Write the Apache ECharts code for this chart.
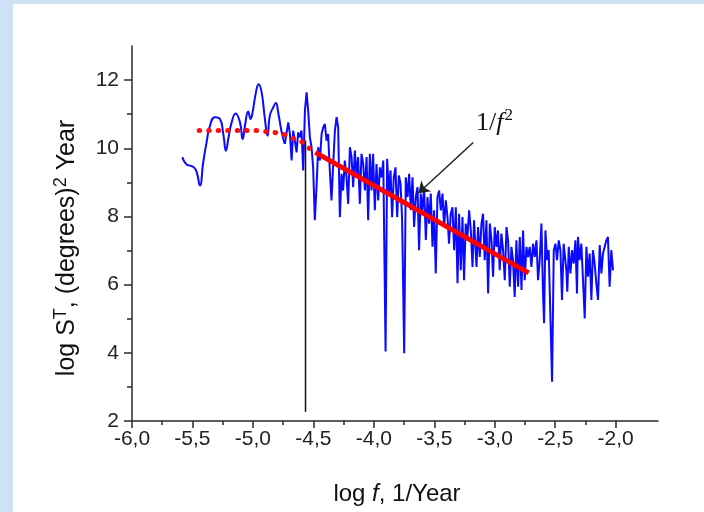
<!DOCTYPE html>
<html><head><meta charset="utf-8">
<script src="https://cdn.jsdelivr.net/npm/echarts@6/dist/echarts.min.js"></script>
<style>
html,body{margin:0;padding:0;background:#cfe1f4;}
#panel{position:absolute;left:13px;top:4px;width:691px;height:508px;background:#fff;}
#c{position:absolute;left:0;top:0;width:704px;height:512px;}
</style>
</head><body><div id="panel"></div><div id="c"></div>
<script>
// log f (1/Year), log S^T — smooth low-frequency part
const lowFreq = [[-5.584,9.74],[-5.554,9.54],[-5.521,9.49],[-5.488,9.44],[-5.465,9.30],[-5.438,8.91],[-5.411,9.59],[-5.383,10.18],[-5.355,10.66],[-5.314,10.91],[-5.273,10.86],[-5.245,10.42],[-5.223,9.93],[-5.204,10.27],[-5.176,10.76],[-5.143,11.02],[-5.107,10.76],[-5.085,10.27],[-5.066,10.66],[-5.039,11.08],[-5.019,10.86],[-5.003,11.05],[-4.975,11.64],[-4.953,11.88],[-4.928,11.64],[-4.901,10.86],[-4.879,10.37],[-4.860,10.96],[-4.832,11.20],[-4.810,11.33],[-4.791,11.05],[-4.762,10.47],[-4.736,10.13]];
// noisy high-frequency part
const highFreq = [[-4.708,10.76],[-4.694,10.42],[-4.680,9.64],[-4.667,10.52],[-4.653,10.22],[-4.639,9.88],[-4.626,10.47],[-4.612,10.32],[-4.598,10.52],[-4.584,9.35],[-4.570,11.10],[-4.556,11.64],[-4.543,11.10],[-4.529,10.32],[-4.515,10.03],[-4.502,9.44],[-4.488,7.89],[-4.474,8.86],[-4.460,10.03],[-4.446,9.64],[-4.432,10.42],[-4.419,10.61],[-4.405,10.71],[-4.391,10.22],[-4.378,10.42],[-4.364,9.35],[-4.350,8.47],[-4.336,9.54],[-4.322,10.52],[-4.308,10.91],[-4.295,10.61],[-4.281,7.98],[-4.267,9.25],[-4.254,8.76],[-4.240,9.64],[-4.226,9.15],[-4.212,8.37],[-4.198,10.03],[-4.184,9.74],[-4.171,8.86],[-4.157,9.93],[-4.143,9.15],[-4.130,9.74],[-4.116,8.37],[-4.102,9.84],[-4.088,9.54],[-4.074,8.76],[-4.060,9.74],[-4.047,7.89],[-4.033,9.84],[-4.019,8.76],[-4.006,9.84],[-3.992,8.18],[-3.978,9.54],[-3.964,8.47],[-3.950,9.44],[-3.936,9.15],[-3.922,9.64],[-3.903,4.04],[-3.890,9.69],[-3.876,8.67],[-3.862,9.35],[-3.849,7.98],[-3.835,9.15],[-3.821,9.44],[-3.807,7.98],[-3.793,9.20],[-3.779,8.96],[-3.766,7.89],[-3.749,3.99],[-3.736,9.15],[-3.721,8.57],[-3.708,9.25],[-3.694,8.18],[-3.680,9.15],[-3.667,7.69],[-3.653,8.57],[-3.639,8.86],[-3.626,7.01],[-3.612,8.67],[-3.598,8.18],[-3.584,8.86],[-3.570,7.31],[-3.556,8.57],[-3.543,7.79],[-3.529,8.67],[-3.515,7.11],[-3.502,8.18],[-3.488,6.33],[-3.474,8.57],[-3.460,8.76],[-3.446,8.18],[-3.432,8.67],[-3.419,7.69],[-3.405,8.47],[-3.391,7.98],[-3.378,7.20],[-3.364,8.08],[-3.350,8.27],[-3.336,7.01],[-3.322,8.27],[-3.308,6.04],[-3.295,8.08],[-3.281,6.42],[-3.267,7.98],[-3.254,6.13],[-3.240,7.79],[-3.226,7.40],[-3.212,8.18],[-3.198,7.59],[-3.184,6.52],[-3.171,7.89],[-3.151,6.52],[-3.138,7.69],[-3.124,6.81],[-3.110,7.79],[-3.097,8.08],[-3.083,6.72],[-3.069,7.89],[-3.055,5.74],[-3.041,7.79],[-3.027,7.30],[-3.014,6.23],[-3.000,7.69],[-2.986,7.11],[-2.973,7.59],[-2.959,6.42],[-2.945,7.50],[-2.931,7.01],[-2.917,6.13],[-2.903,7.69],[-2.890,7.30],[-2.876,5.94],[-2.862,7.11],[-2.849,6.72],[-2.835,5.64],[-2.821,7.30],[-2.807,5.94],[-2.793,7.40],[-2.779,5.84],[-2.766,7.59],[-2.752,6.13],[-2.738,7.11],[-2.725,6.81],[-2.711,7.11],[-2.697,6.52],[-2.683,7.20],[-2.669,6.81],[-2.655,7.30],[-2.642,6.13],[-2.628,6.72],[-2.614,7.79],[-2.601,5.74],[-2.592,4.87],[-2.581,7.59],[-2.567,6.72],[-2.554,7.01],[-2.540,7.01],[-2.526,3.15],[-2.512,7.01],[-2.498,7.20],[-2.485,6.72],[-2.471,7.30],[-2.457,7.01],[-2.444,5.55],[-2.430,7.20],[-2.408,6.42],[-2.400,5.79],[-2.388,7.11],[-2.374,6.33],[-2.361,7.01],[-2.347,6.62],[-2.333,7.30],[-2.320,5.74],[-2.312,7.40],[-2.298,6.72],[-2.284,7.20],[-2.270,6.13],[-2.256,5.01],[-2.242,7.11],[-2.229,6.23],[-2.215,6.91],[-2.201,5.55],[-2.188,7.01],[-2.174,6.62],[-2.160,6.04],[-2.146,5.55],[-2.132,7.16],[-2.118,6.33],[-2.105,6.91],[-2.091,7.11],[-2.077,7.30],[-2.064,7.40],[-2.050,5.94],[-2.036,7.01],[-2.022,6.42]];
// red dotted plateau fit
const plateauFit = [[-5.444,10.52],[-5.2,10.52],[-4.95,10.52],[-4.897,10.49],[-4.817,10.46],[-4.74,10.40],[-4.67,10.29],[-4.60,10.20],[-4.535,10.00]];
// red 1/f^2 fit
const powerLawFit = [[-4.484,9.88],[-2.72,6.345]];
// vertical black marker
const cutoffLine = [[-4.565,10.23],[-4.565,2.27]];
// annotation arrow
const arrowFrom = [-3.178,10.17];
const arrowTo = [-3.633,8.68];
// ticks
const xMajorTicks = [-6,-5.5,-5,-4.5,-4,-3.5,-3,-2.5,-2];
const xMinorTicks = [-5.75,-5.25,-4.75,-4.25,-3.75,-3.25,-2.75,-2.25];
const yMajorTicks = [2,4,6,8,10,12];
const yMinorTicks = [3,5,7,9,11];

const axisColor = '#2a2a2a';
const chart = echarts.init(document.getElementById('c'));
const xBase = {type:'value', min:-6, max:-1.65, position:'bottom', splitLine:{show:false}};
const yBase = {type:'value', min:2, max:13, position:'left', splitLine:{show:false}};
chart.setOption({
  animation:false,
  grid:{left:132, right:46, top:46, bottom:91, containLabel:false},
  xAxis:[
    Object.assign({}, xBase, {
      axisLine:{show:true, onZero:false, lineStyle:{color:axisColor, width:1.5}},
      axisTick:{show:true, customValues:xMajorTicks, length:7, lineStyle:{color:axisColor, width:1.5}},
      axisLabel:{customValues:xMajorTicks, formatter:v=>v.toFixed(1).replace('.', ','), fontSize:21, color:'#222', fontFamily:'Liberation Sans', margin:8}
    }),
    Object.assign({}, xBase, {
      axisLine:{show:false, onZero:false},
      axisTick:{show:true, customValues:xMinorTicks, length:4, lineStyle:{color:axisColor, width:1.5}},
      axisLabel:{show:false}
    })
  ],
  yAxis:[
    Object.assign({}, yBase, {
      axisLine:{show:true, onZero:false, lineStyle:{color:axisColor, width:1.5}},
      axisTick:{show:true, customValues:yMajorTicks, length:8, lineStyle:{color:axisColor, width:1.5}},
      axisLabel:{customValues:yMajorTicks, formatter:v=>String(v), fontSize:21, color:'#222', fontFamily:'Liberation Sans', margin:13}
    }),
    Object.assign({}, yBase, {
      axisLine:{show:false, onZero:false},
      axisTick:{show:true, customValues:yMinorTicks, length:5, lineStyle:{color:axisColor, width:1.5}},
      axisLabel:{show:false}
    })
  ],
  series:[
    {type:'line', data:lowFreq, symbol:'none', smooth:0.5, lineStyle:{color:'#0a0aff', width:2}, z:2},
    {type:'line', data:[lowFreq[lowFreq.length-1]].concat(highFreq), symbol:'none', lineStyle:{color:'#0a0aff', width:2}, z:2},
    {type:'line', data:cutoffLine, symbol:'none', lineStyle:{color:'#111', width:1.5}, z:3},
    {type:'line', data:plateauFit, symbol:'none', smooth:true, lineStyle:{color:'#ff1010', width:5, type:[0.5,9], cap:'round'}, z:4},
    {type:'line', data:powerLawFit, symbol:'none', lineStyle:{color:'#ff0000', width:5}, z:5,
      markLine:{silent:true, symbol:['none','arrow'], symbolSize:11, label:{show:false},
        lineStyle:{color:'#222', width:1.5, type:'solid'},
        data:[[{coord:arrowFrom},{coord:arrowTo}]]}}
  ],
  graphic:[
    {type:'text', x:66, y:248, rotation:Math.PI/2, style:{
      text:'{n|log S}{s|T}{n|, (degrees)}{s|2}{n| Year}',
      align:'center', verticalAlign:'middle',
      rich:{n:{fontSize:25, fontFamily:'Liberation Sans', fill:'#111', verticalAlign:'bottom'}, s:{fontSize:18, fontFamily:'Liberation Sans', fill:'#111', verticalAlign:'bottom', padding:[0,0,10,0]}}}},
    {type:'text', x:397, y:494, style:{
      text:'{n|log }{i|f}{n|, 1/Year}',
      align:'center', verticalAlign:'middle',
      rich:{n:{fontSize:24, fontFamily:'Liberation Sans', fill:'#111'}, i:{fontSize:24, fontFamily:'Liberation Sans', fontStyle:'italic', fill:'#111'}}}},
    {type:'text', x:476, y:136, style:{
      text:'{n|1/}{i|f}{s|2}',
      align:'left', verticalAlign:'bottom',
      rich:{n:{fontSize:26, fontFamily:'Liberation Serif', fill:'#111', verticalAlign:'bottom'}, i:{fontSize:26, fontFamily:'Liberation Serif', fontStyle:'italic', fill:'#111', verticalAlign:'bottom'}, s:{fontSize:17, fontFamily:'Liberation Serif', fill:'#111', verticalAlign:'bottom', padding:[0,0,12,1]}}}}
  ]
});
</script>
</body></html>
